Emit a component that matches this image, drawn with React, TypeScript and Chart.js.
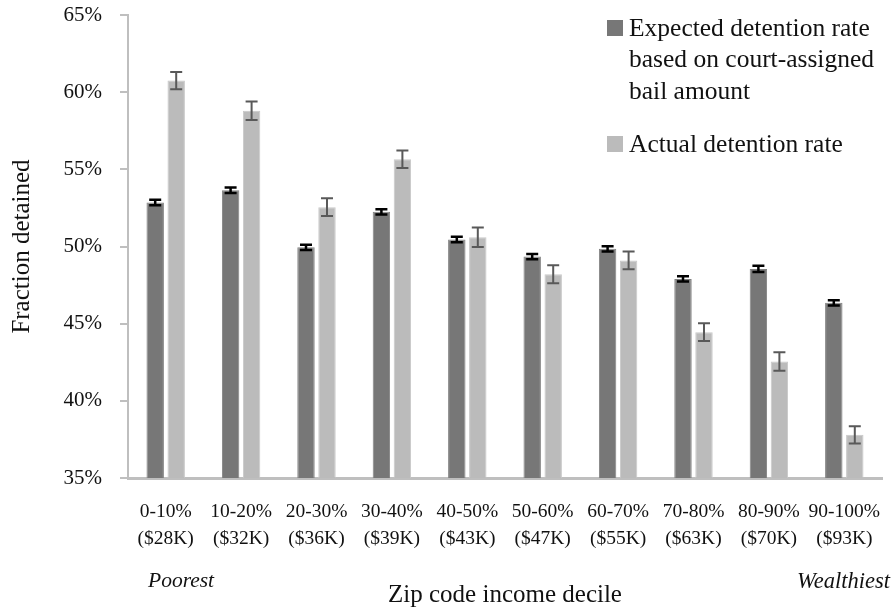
import React, { useEffect, useRef } from "react";
import { Chart, registerables } from "chart.js";

Chart.register(...registerables);

const categories: string[][] = [
  ["0-10%", "($28K)"],
  ["10-20%", "($32K)"],
  ["20-30%", "($36K)"],
  ["30-40%", "($39K)"],
  ["40-50%", "($43K)"],
  ["50-60%", "($47K)"],
  ["60-70%", "($55K)"],
  ["70-80%", "($63K)"],
  ["80-90%", "($70K)"],
  ["90-100%", "($93K)"],
];

const expectedRate = [52.85, 53.65, 49.95, 52.25, 50.45, 49.35, 49.85, 47.9, 48.55, 46.35];
const expectedErr = [0.18, 0.18, 0.17, 0.17, 0.18, 0.17, 0.17, 0.17, 0.2, 0.17];
const actualRate = [60.75, 58.8, 52.55, 55.65, 50.6, 48.2, 49.1, 44.45, 42.55, 37.8];
const actualErr = [0.56, 0.6, 0.58, 0.57, 0.63, 0.58, 0.58, 0.57, 0.6, 0.56];

const legendLabels: string[][] = [
  ["Expected detention rate", "based on court-assigned", "bail amount"],
  ["Actual detention rate"],
];

const FONT = "'Liberation Serif', 'Times New Roman', serif";
const DARK = "#777777";
const LIGHT = "#bbbbbb";
const AXIS = "#bfbfbf";
const TEXT = "#111111";

const errorBarPlugin = {
  id: "errorBars",
  afterDatasetsDraw(chart: any) {
    const ctx = chart.ctx;
    const yScale = chart.scales.y;
    const errs = [expectedErr, actualErr];
    const styles = [
      { color: "#000000", width: 2.5, cap: 6 },
      { color: "#595959", width: 2, cap: 6 },
    ];
    chart.data.datasets.forEach((ds: any, i: number) => {
      const meta = chart.getDatasetMeta(i);
      const st = styles[i];
      ctx.save();
      ctx.strokeStyle = st.color;
      ctx.lineWidth = st.width;
      meta.data.forEach((el: any, j: number) => {
        const v = ds.data[j];
        const e = errs[i][j];
        const yt = yScale.getPixelForValue(v + e);
        const yb = yScale.getPixelForValue(v - e);
        const x = el.x;
        ctx.beginPath();
        ctx.moveTo(x, yt);
        ctx.lineTo(x, yb);
        ctx.moveTo(x - st.cap, yt);
        ctx.lineTo(x + st.cap, yt);
        ctx.moveTo(x - st.cap, yb);
        ctx.lineTo(x + st.cap, yb);
        ctx.stroke();
      });
      ctx.restore();
    });
  },
};

const annotationPlugin = {
  id: "annotations",
  afterDraw(chart: any) {
    const ctx = chart.ctx;
    ctx.save();
    const colors = [DARK, LIGHT];
    const squareTops = [20, 136];
    const baselines = [[36, 67, 98.5], [151.5]];
    ctx.font = `25.5px ${FONT}`;
    ctx.textAlign = "left";
    ctx.textBaseline = "alphabetic";
    legendLabels.forEach((lines, i) => {
      ctx.fillStyle = colors[i];
      ctx.fillRect(607, squareTops[i], 16, 16);
      ctx.fillStyle = TEXT;
      lines.forEach((ln, k) => {
        ctx.fillText(ln, 629, baselines[i][k]);
      });
    });
    ctx.textBaseline = "middle";
    ctx.font = `italic 21.5px ${FONT}`;
    ctx.textAlign = "left";
    ctx.fillText("Poorest", 148, 581);
    ctx.font = `italic 22.5px ${FONT}`;
    ctx.textAlign = "right";
    ctx.fillText("Wealthiest", 890, 582);
    ctx.restore();
  },
};

export default function App() {
  const canvasRef = useRef<HTMLCanvasElement | null>(null);

  useEffect(() => {
    if (!canvasRef.current) return;
    const chart = new Chart(canvasRef.current, {
      type: "bar",
      data: {
        labels: categories,
        datasets: [
          {
            label: legendLabels[0].join(" "),
            data: expectedRate,
            backgroundColor: DARK,
            borderColor: "#808080",
            borderWidth: 1,
            categoryPercentage: 0.557,
            barPercentage: 0.83,
          },
          {
            label: legendLabels[1].join(" "),
            data: actualRate,
            backgroundColor: LIGHT,
            borderColor: "#c8c8c8",
            borderWidth: 1,
            categoryPercentage: 0.557,
            barPercentage: 0.83,
          },
        ],
      },
      options: {
        animation: false,
        responsive: true,
        maintainAspectRatio: false,
        layout: { padding: { top: 15, right: 14, left: 0, bottom: 0 } },
        plugins: {
          legend: { display: false },
          tooltip: { enabled: false },
        },
        scales: {
          x: {
            grid: { display: false, drawTicks: false },
            border: { display: true, color: AXIS, width: 3 },
            ticks: {
              color: TEXT,
              font: { family: FONT, size: 19.5, lineHeight: 1.4 },
              padding: 20,
              maxRotation: 0,
              autoSkip: false,
            },
            title: {
              display: true,
              text: "Zip code income decile",
              color: TEXT,
              font: { family: FONT, size: 25, lineHeight: 1.2 },
              padding: { top: 0, bottom: 3 },
            },
            afterFit(scale: any) {
              scale.height = 135;
              scale.paddingLeft = 0;
              scale.paddingRight = 0;
            },
          },
          y: {
            min: 35,
            max: 65,
            grid: {
              display: true,
              drawOnChartArea: false,
              drawTicks: true,
              tickLength: 8,
              color: AXIS,
              lineWidth: 2,
            },
            border: { display: true, color: AXIS, width: 2 },
            ticks: {
              stepSize: 5,
              color: TEXT,
              font: { family: FONT, size: 21 },
              padding: 18,
              callback: (v: any) => `${v}%`,
            },
            title: {
              display: true,
              text: "Fraction detained",
              color: TEXT,
              font: { family: FONT, size: 25, lineHeight: 1.2 },
              padding: { top: 7, bottom: 0 },
            },
            afterFit(scale: any) {
              scale.width = 128;
              scale.paddingTop = 0;
              scale.paddingBottom = 0;
            },
          },
        },
      },
      plugins: [errorBarPlugin, annotationPlugin],
    });
    return () => chart.destroy();
  }, []);

  return (
    <div style={{ position: "absolute", left: 0, top: 0, width: 896, height: 613 }}>
      <canvas ref={canvasRef} />
    </div>
  );
}
